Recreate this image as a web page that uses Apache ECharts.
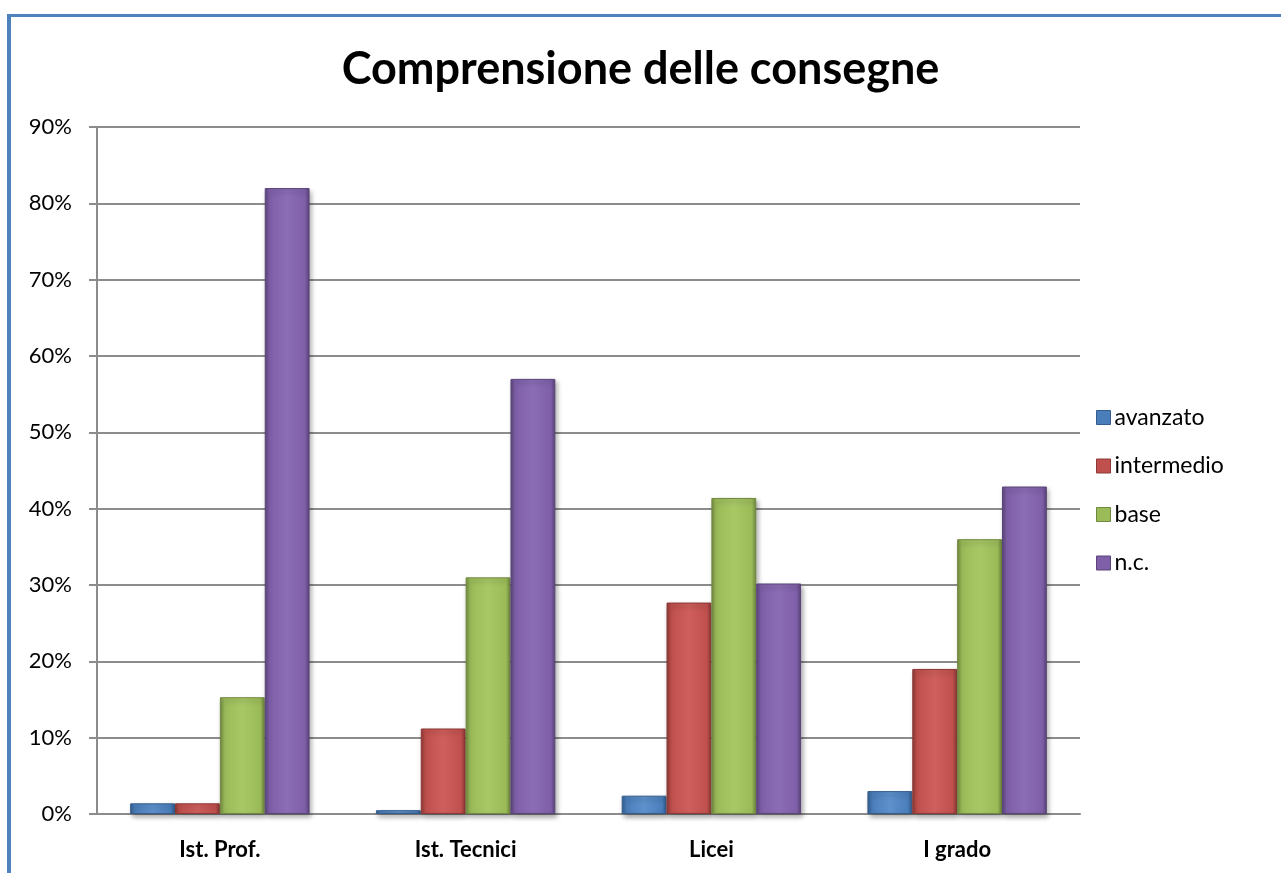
<!DOCTYPE html>
<html>
<head>
<meta charset="utf-8">
<script src="https://cdn.jsdelivr.net/npm/echarts@6/dist/echarts.min.js"></script>
<style>
  html, body { margin: 0; padding: 0; background: #fff; }
  #frame {
    position: absolute; left: 7px; top: 14px; right: 0; bottom: 0;
    border-left: 4px solid #4F81BD; border-top: 3px solid #4F81BD;
  }
  #chart { position: absolute; left: 0; top: 0; width: 1281px; height: 873px; }
</style>
</head>
<body>
<div id="frame"></div>
<div id="chart"></div>
<script>
// dati (percentuali)
const categories = ['Ist. Prof.', 'Ist. Tecnici', 'Licei', 'I grado']
const avanzato = [1.4, 0.5, 2.4, 3.0]
const intermedio = [1.4, 11.2, 27.7, 19.0]
const base = [15.3, 31.0, 41.4, 36.0]
const nc = [82.0, 57.0, 30.2, 42.9]
const seriesNames = ['avanzato', 'intermedio', 'base', 'n.c.']

// colori in stile Office
const palette = [
  { main: '#4A7EBB', dark: '#345C8C', light: '#5F91CC' },
  { main: '#C0504D', dark: '#8C3836', light: '#CE5F5C' },
  { main: '#9BBB59', dark: '#71893F', light: '#A8C866' },
  { main: '#7E5FA8', dark: '#5A4479', light: '#8B6DB5' }
]

function barStyle(c) {
  return {
    color: {
      type: 'linear', x: 0, y: 0, x2: 1, y2: 0,
      colorStops: [
        { offset: 0, color: c.dark },
        { offset: 0.1, color: c.main },
        { offset: 0.5, color: c.light },
        { offset: 0.9, color: c.main },
        { offset: 1, color: c.dark }
      ]
    },
    borderColor: c.dark,
    borderWidth: 1,
    shadowColor: 'rgba(0,0,0,0.35)',
    shadowBlur: 5,
    shadowOffsetX: 2,
    shadowOffsetY: 3
  }
}

const dataList = [avanzato, intermedio, base, nc]
const chart = echarts.init(document.getElementById('chart'))
const option = {
  animation: false,
  color: palette.map(p => p.main),
  title: {
    text: 'Comprensione delle consegne',
    left: 'center',
    top: 42,
    textStyle: { fontFamily: 'Lato', fontWeight: 'bold', fontSize: 45, color: '#000' }
  },
  legend: {
    orient: 'vertical',
    left: 1091,
    top: 401,
    itemGap: 25.5,
    itemWidth: 14,
    itemHeight: 14,
    icon: 'rect',
    textStyle: { fontFamily: 'Lato', fontSize: 23, color: '#000', padding: [0, 0, 0, -1] },
    data: seriesNames.map((n, i) => ({ name: n, itemStyle: { color: palette[i].main, borderColor: palette[i].dark, borderWidth: 1 } }))
  },
  grid: { left: 97, right: 201, top: 127, bottom: 59 },
  xAxis: {
    type: 'category',
    data: categories,
    axisLine: { lineStyle: { color: '#8C8C8C', width: 2 } },
    axisTick: { show: false },
    axisLabel: { margin: 25, fontFamily: 'Lato', fontWeight: 'bold', fontSize: 22, color: '#000' }
  },
  yAxis: {
    type: 'value',
    min: 0,
    max: 90,
    interval: 10,
    axisLine: { show: true, lineStyle: { color: '#8C8C8C', width: 2 } },
    axisTick: { show: true, length: 8, lineStyle: { color: '#8C8C8C', width: 2 } },
    axisLabel: { formatter: '{value}%', margin: 25, fontFamily: 'Lato', fontSize: 22, color: '#000' },
    splitLine: { lineStyle: { color: '#8C8C8C', width: 2 } }
  },
  series: seriesNames.map((n, i) => ({
    name: n,
    type: 'bar',
    barGap: '0%',
    barCategoryGap: '27%',
    data: dataList[i],
    itemStyle: barStyle(palette[i])
  }))
}
chart.setOption(option)
</script>
</body>
</html>
